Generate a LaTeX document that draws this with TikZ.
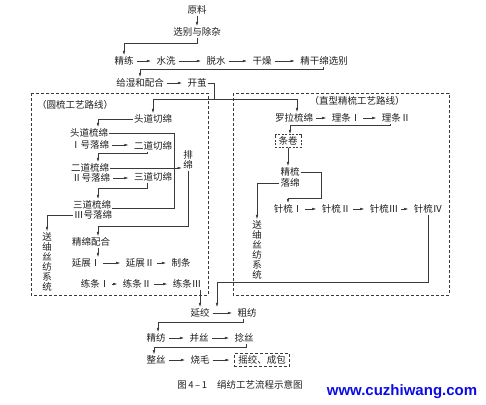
\documentclass[tikz,border=0pt]{standalone}
\usepackage{fontspec}
\setmainfont{Noto Sans CJK SC}
\newfontfamily\wwwfont{Liberation Sans}
\usepackage{tikz}
\usetikzlibrary{arrows.meta}
\definecolor{inkgray}{HTML}{1E1E1E}
\definecolor{linegray}{HTML}{3A3A3A}
\definecolor{markblue}{HTML}{0B0BE8}
\tikzset{every node/.append style={font=\fontsize{9.5}{10}\selectfont,text=inkgray,inner sep=1pt}}

\begin{document}
\begin{tikzpicture}[>={Latex[length=4.5pt,width=2.6pt]},x=1pt,y=-1pt,
  line/.style={linegray,line width=.65pt},
  flow/.style={line,->},
  hflow/.style={flow,shorten <=2pt,shorten >=4pt},
  dashbox/.style={linegray,line width=.6pt,dash pattern=on 3pt off 2pt}]
  \useasboundingbox (0,0) rectangle (486,404);
  % top chain
  \node (yl) at (197,10) {原料};
  \node (xb) at (197,32) {选别与除杂};
  \node (jl) at (124,61) {精练};
  \node (sx) at (166,61) {水洗};
  \node (ts) at (216,61) {脱水};
  \node (gz) at (262,61) {干燥};
  \node (jgm) at (324,61) {精干绵选别};
  \node (gs) at (140,83) {给湿和配合};
  \node (kj) at (197,83) {开茧};
  \coordinate (split) at (214,99);
  \draw[flow] (yl) -- (xb);
  \draw[flow] (xb.south) -- ++(0,6) -| (jl.north);
  \draw[hflow] (jl) -- (sx);
  \draw[hflow] (sx) -- (ts);
  \draw[hflow] (ts) -- (gz);
  \draw[hflow] (gz) -- (jgm);
  \draw[flow] ([xshift=-1pt]jgm.south) -- ++(0,3) -| (gs.north);
  \draw[hflow] (gs) -- (kj);
  \draw[line] (kj.east) -| (split);
  % round comb route
  \draw[dashbox] (31,93) rectangle (208,295);
  \node (ltitle) at (75,105) {（圆梳工艺路线）};
  \node (tdqm) at (153,119) {头道切绵};
  \node (tdsm) at (89,133) {头道梳绵};
  \node (lm1) at (90,145) {Ⅰ号落绵};
  \node (edqm) at (153,146) {二道切绵};
  \node (edsm) at (90,168) {二道梳绵};
  \node (lm2) at (91,178) {Ⅱ号落绵};
  \node (sdqm) at (153,177) {三道切绵};
  \node (sdsm) at (92,205) {三道梳绵};
  \node (lm3) at (93,215) {Ⅲ号落绵};
  \node[align=center] (pm) at (188,160) {排\\绵};
  \node[align=center] (scl) at (47,262) {送\\䌷\\丝\\纺\\系\\统};
  \node (jmph) at (91,242) {精绵配合};
  \node (yz1) at (86,263) {延展Ⅰ};
  \node (yz2) at (140,263) {延展Ⅱ};
  \node (zt) at (181,263) {制条};
  \node (lt1) at (95,284) {练条Ⅰ};
  \node (lt2) at (137,284) {练条Ⅱ};
  \node (lt3) at (187,284) {练条Ⅲ};
  \coordinate (merge) at (174,133);
  \draw[flow] (split) -| (tdqm.north);
  \draw[flow] (tdqm.west) -| ([xshift=9pt]tdsm.north);
  \draw[line] (tdsm.east) -- (merge) |- ([yshift=-3pt]sdsm.east);
  \draw[flow] (edsm.east) -- (edsm.east -| pm.west);
  \draw[hflow] (lm1.east) -- (lm1.east -| edqm.west);
  \draw[flow] ([xshift=-6pt]edqm.south) -- ++(0,2) -| ([xshift=8pt]edsm.north);
  \draw[hflow] (lm2.east) -- (lm2.east -| sdqm.west);
  \draw[flow] ([xshift=-6pt]sdqm.south) -- ++(0,6) -| ([xshift=6pt]sdsm.north);
  \draw[flow] (lm3.west) -| (scl.north);
  \draw[flow] (pm.south) -- ++(0,56) -| ([xshift=7pt]jmph.north);
  \draw[flow] ([xshift=7pt]jmph.south) -- ([xshift=7pt]jmph.south |- yz1.north);
  \draw[hflow] (yz1) -- (yz2);
  \draw[hflow] (yz2) -- (zt);
  \draw[hflow] (lt1) -- (lt2);
  \draw[hflow] (lt2) -- (lt3);
  % straight comb route
  \draw[dashbox] (233,93) rectangle (449,295);
  \node (rtitle) at (357,101) {（直型精梳工艺路线）};
  \node (llsm) at (294,118) {罗拉梳绵};
  \node (ltI) at (346,118) {理条Ⅰ};
  \node (ltII) at (396,118) {理条Ⅱ};
  \node[draw=linegray,dash pattern=on 2pt off 1.5pt,line width=.6pt,inner xsep=3.5pt,inner ysep=2pt] (tj) at (288,141) {条卷};
  \node (jsu) at (290,172) {精梳};
  \node (lmr) at (290,183) {落绵};
  \node[align=center] (scr) at (257,250) {送\\䌷\\丝\\纺\\系\\统};
  \node (zs1) at (288,209) {针梳Ⅰ};
  \node (zs2) at (336,209) {针梳Ⅱ};
  \node (zs3) at (384,209) {针梳Ⅲ};
  \node (zs4) at (428,209) {针梳Ⅳ};
  \draw[flow] (split) -| ([xshift=3pt]llsm.north);
  \draw[hflow] (llsm) -- (ltI);
  \draw[hflow] (ltI) -- (ltII);
  \draw[flow] ([xshift=-6pt]ltII.south) -- ++(0,2) -| ([xshift=2pt]tj.north);
  \draw[flow] (tj.south) -- (tj.south |- jsu.north);
  \draw[flow] (jsu.east) -- ++(21,0) -- ++(0,26) -| (zs1.north);
  \draw[flow] (lmr.west) -| (scr.north);
  \draw[hflow] (zs1) -- (zs2);
  \draw[hflow] (zs2) -- (zs3);
  \draw[hflow] (zs3) -- (zs4);
  % spinning
  \node (yj) at (200,313) {延绞};
  \node (cf) at (247,313) {粗纺};
  \node (jf) at (156,338) {精纺};
  \node (bs) at (199,338) {并丝};
  \node (ns) at (244,338) {捻丝};
  \node (zhs) at (156,360) {整丝};
  \node (sm) at (200,360) {烧毛};
  \node[draw=linegray,dash pattern=on 3pt off 2pt,line width=.6pt,inner xsep=4pt,inner ysep=2pt] (yjcb) at (262,360) {摇绞、成包};
  \draw[flow] (yj.north |- lt3.south) -- (yj.north);
  \draw[flow] (zs4.south) -- ++(0,68) -| ([xshift=17pt]yj.north);
  \draw[hflow] (yj) -- (cf);
  \draw[flow] ([xshift=-4pt]cf.south) -- ++(0,4) -| ([xshift=2pt]jf.north);
  \draw[hflow] (jf) -- (bs);
  \draw[hflow] (bs) -- (ns);
  \draw[flow] ([xshift=2pt]ns.south) -- ++(0,4) -| ([xshift=-2pt]zhs.north);
  \draw[hflow] (zhs) -- (sm);
  \draw[hflow] (sm) -- (yjcb);
  % caption
  \node (cap) at (240,385) {图\,4\,–\,1\hspace{10pt}绢纺工艺流程示意图};
  \node[font=\wwwfont\bfseries\fontsize{15}{15}\selectfont,text=markblue] (www) at (402,392) {www.cuzhiwang.com};
\end{tikzpicture}
\end{document}
